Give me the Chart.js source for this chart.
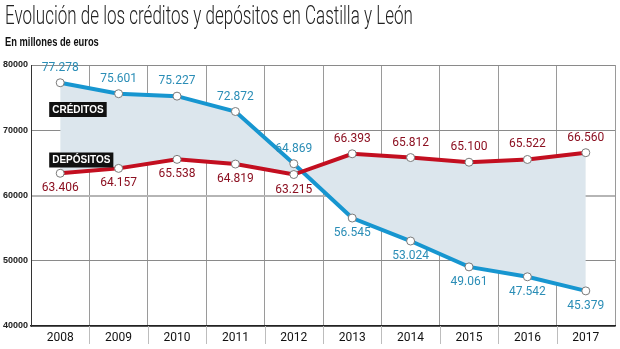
<!DOCTYPE html>
<html><head><meta charset="utf-8">
<script src="https://cdn.jsdelivr.net/npm/chart.js@4"></script>
<style>
html,body{margin:0;padding:0;background:#fff;}
#wrap{position:relative;width:620px;height:349px;overflow:hidden;background:#fff;}
#title{position:absolute;left:5px;top:1px;font-family:Roboto,"Open Sans",sans-serif;font-weight:300;font-size:25px;line-height:30px;color:#222;white-space:nowrap;transform-origin:0 0;}
#sub{position:absolute;left:5px;top:35px;font-family:"Liberation Sans Narrow","Liberation Sans",sans-serif;font-weight:bold;font-size:12px;line-height:14px;color:#111;white-space:nowrap;transform-origin:0 0;}
canvas{position:absolute;left:0;top:0;}
</style></head><body>
<div id="wrap">
<canvas id="c" width="620" height="349"></canvas>
<div id="title">Evolución de los créditos y depósitos en Castilla y León</div>
<div id="sub">En millones de euros</div>
</div>
<script>
// ---- data ----
const years = ['2008','2009','2010','2011','2012','2013','2014','2015','2016','2017'];
const creditos = [77278,75601,75227,72872,64869,56545,53024,49061,47542,45379];
const depositos = [63406,64157,65538,64819,63215,66393,65812,65100,65522,66560];
const seriesNames = ['CRÉDITOS','DEPÓSITOS'];
const yMin = 40000, yMax = 80000, yStep = 10000;

// fit title widths
function fit(id, w){ const el=document.getElementById(id); const s=w/el.scrollWidth; el.style.transform='scaleX('+s+')'; }
fit('title', 408);
fit('sub', 94);

function fmt(v){ const t=Math.floor(v/1000), r=v%1000; return t+'.'+String(r).padStart(3,'0'); }

const valueLabels = {
  id:'valueLabels',
  afterDatasetsDraw(chart){
    const ctx=chart.ctx;
    ctx.save();
    ctx.font='12px Roboto, "Open Sans", sans-serif';
    ctx.textAlign='center';
    ctx.textBaseline='middle';
    chart.data.datasets.forEach((ds,d)=>{
      const meta=chart.getDatasetMeta(d);
      const other=chart.data.datasets[1-d].data;
      meta.data.forEach((pt,i)=>{
        const above = ds.data[i] >= other[i];
        ctx.fillStyle=ds.labelColor;
        ctx.fillText(fmt(ds.data[i]), pt.x, above ? pt.y-15 : pt.y+15);
      });
    });
    ctx.restore();
  }
};

const seriesTags = {
  id:'seriesTags',
  afterDatasetsDraw(chart){
    const ctx=chart.ctx, xs=chart.scales.x, ys=chart.scales.y;
    const anchors=[73180, 65440];
    ctx.save();
    ctx.font='bold 10px "Liberation Sans Narrow", "Liberation Sans", sans-serif';
    ctx.textBaseline='middle';
    ctx.textAlign='left';
    seriesNames.forEach((name,k)=>{
      const x=xs.getPixelForValue(0)-11;
      const yc=ys.getPixelForValue(anchors[k]);
      const w=ctx.measureText(name).width+6;
      ctx.fillStyle='#111';
      ctx.fillRect(x, yc-7.5, w, 15);
      ctx.fillStyle='#fff';
      ctx.fillText(name, x+3, yc+0.5);
    });
    ctx.restore();
  }
};

const tickExt = {
  id:'tickExt',
  afterDraw(chart){
    const ctx=chart.ctx, xs=chart.scales.x, a=chart.chartArea;
    ctx.save();
    ctx.strokeStyle='#bdbdbd';
    ctx.lineWidth=1;
    for(let i=1;i<years.length;i++){
      const x=Math.round((xs.getPixelForValue(i-1)+xs.getPixelForValue(i))/2)+0.5;
      ctx.beginPath(); ctx.moveTo(x,a.bottom); ctx.lineTo(x,a.bottom+18); ctx.stroke();
    }
    ctx.restore();
  }
};

new Chart(document.getElementById('c'), {
  type:'line',
  data:{
    labels: years,
    datasets:[
      {label:seriesNames[0], data:creditos, borderColor:'#1796d0', borderWidth:4,
       backgroundColor:'#dce6ed', fill:'+1', tension:0, order:1,
       pointRadius:4, pointBackgroundColor:'#fff', pointBorderColor:'#7a7a7a', pointBorderWidth:1,
       labelColor:'#2a8db6'},
      {label:seriesNames[1], data:depositos, borderColor:'#c30f20', borderWidth:4,
       backgroundColor:'#dce6ed', fill:false, tension:0, order:0,
       pointRadius:4, pointBackgroundColor:'#fff', pointBorderColor:'#7a7a7a', pointBorderWidth:1,
       labelColor:'#8c1021'}
    ]
  },
  options:{
    responsive:false, animation:false,
    layout:{padding:{top:65,right:2,left:0,bottom:0}},
    plugins:{legend:{display:false}, tooltip:{enabled:false}, title:{display:false}},
    scales:{
      x:{
        offset:true,
        grid:{color:'#9a9a9a', lineWidth:1, drawTicks:false, offset:true},
        border:{color:'#222', width:1.5},
        ticks:{padding:5, color:'#111', font:{family:'Roboto', size:12}},
        afterFit(s){ s.height=23; }
      },
      y:{
        min:yMin, max:yMax,
        grid:{drawTicks:false,
          color:c=>(c.tick && c.tick.value===60000)?'#b5b5b5':'#8a8a8a',
          lineWidth:c=>(c.tick && c.tick.value===60000)?2:1},
        border:{color:'#333', width:1},
        ticks:{stepSize:yStep, padding:3, color:'#222', font:{family:'Liberation Sans', weight:'bold', size:9},
          callback:v=>String(v)},
        afterFit(s){ s.width=31; }
      }
    }
  },
  plugins:[valueLabels, seriesTags, tickExt]
});
</script>
</body></html>
